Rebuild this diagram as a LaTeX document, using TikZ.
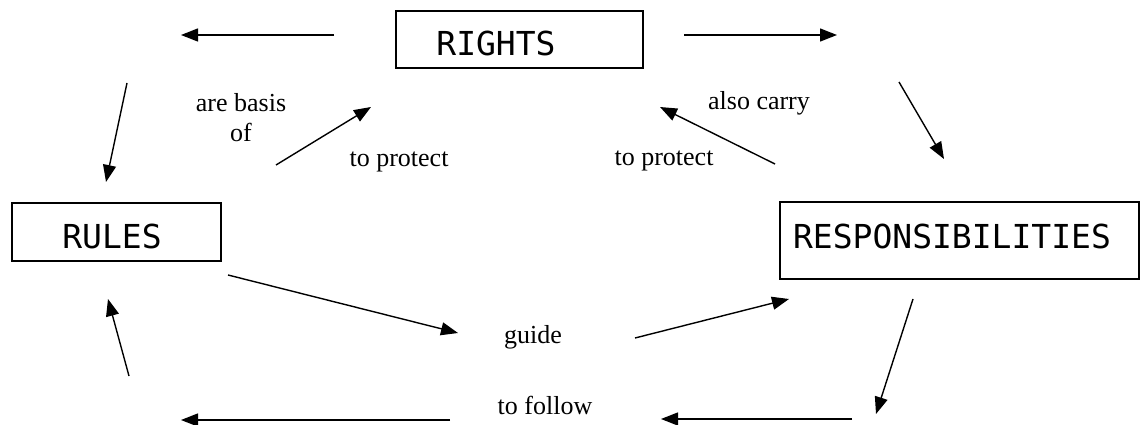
\documentclass[tikz,border=0pt]{standalone}
\usepackage{fontspec}
\setmainfont{Liberation Serif}
\newfontfamily\boxfont{DejaVu Sans Mono}
\usetikzlibrary{arrows.meta}
\begin{document}
\begin{tikzpicture}[x=1pt,y=-1pt,
  box/.style={draw, line width=2.5pt, inner sep=0pt},
  boxtxt/.style={font=\boxfont\fontsize{33}{36}\selectfont, inner sep=0pt, anchor=center},
  lab/.style={font=\fontsize{26}{30}\selectfont, inner sep=0pt, anchor=base},
  conn/.style={line width=1.4pt, -{Triangle[length=17pt,width=13pt]}}]
\useasboundingbox (0,0) rectangle (1141,425);

% boxes
\node[box, minimum width=247pt, minimum height=57pt] (rights) at (519.5,39.5) {};
\node[boxtxt] (rightsT) at (496,43) {RIGHTS};
\node[box, minimum width=209pt, minimum height=58pt] (rules) at (116.5,232) {};
\node[boxtxt] (rulesT) at (112,236) {RULES};
\node[box, minimum width=359pt, minimum height=77pt] (resp) at (959.5,240.5) {};
\node[boxtxt] (respT) at (952,236) {RESPONSIBILITIES};

% labels
\node[lab] (basisA) at (241,112) {are basis};
\node[lab] (basisB) at (241,142) {of};
\node[lab] (protL) at (399,167) {to protect};
\node[lab] (carry) at (759,110) {also carry};
\node[lab] (protR) at (664,166) {to protect};
\node[lab] (guide) at (533,343) {guide};
\node[lab] (follow) at (545,414) {to follow};

% connector end points
\coordinate (a1s) at (334,35);  \coordinate (a1e) at (181,35);
\coordinate (a2s) at (684,35);  \coordinate (a2e) at (837,35);
\coordinate (a3s) at (127,83);  \coordinate (a3e) at (106,182);
\coordinate (a4s) at (276,165); \coordinate (a4e) at (371,107);
\coordinate (a5s) at (775,164); \coordinate (a5e) at (660,107);
\coordinate (a6s) at (899,82);  \coordinate (a6e) at (944,159);
\coordinate (a7s) at (228,275); \coordinate (a7e) at (458,333);
\coordinate (a8s) at (635,338); \coordinate (a8e) at (789,299);
\coordinate (a9s) at (913,299); \coordinate (a9e) at (876,414);
\coordinate (a10s) at (852,419); \coordinate (a10e) at (661,419);
\coordinate (a11s) at (450,420); \coordinate (a11e) at (181,420);
\coordinate (a12s) at (129,376); \coordinate (a12e) at (108,299);

\foreach \i in {1,...,12} {\draw[conn] (a\i s) -- (a\i e);}
\end{tikzpicture}
\end{document}
